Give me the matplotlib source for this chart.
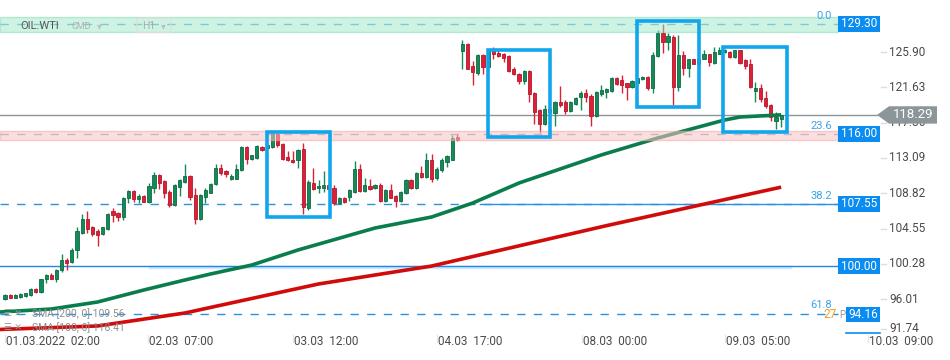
import matplotlib
matplotlib.use("Agg")
import matplotlib.pyplot as plt
import matplotlib.transforms as mtrans
from matplotlib.patches import Rectangle, Polygon, FancyBboxPatch
import numpy as np

plt.rcParams['font.family'] = ['Roboto', 'DejaVu Sans']

# OIL.WTI H1 candles
opens = [96.0, 96.5, 96.2, 96.3, 96.4, 96.5, 97.2, 96.9, 98.4, 98.9,
         98.4, 99.5, 100.7, 100.5, 101.9, 104.0, 105.7, 104.7, 104.2, 103.9,
         104.5, 106.7, 106.4, 105.9, 108.2, 109.1, 108.1, 108.5, 107.8, 109.5,
         111.0, 110.3, 109.0, 107.4, 109.6, 110.2, 110.9, 108.6, 105.7, 108.4,
         108.9, 109.9, 111.9, 111.5, 110.5, 110.6, 111.6, 114.4, 113.0, 113.1,
         114.4, 114.3, 114.4, 116.0, 114.8, 113.2, 112.9, 112.8, 114.2, 107.0,
         110.1, 109.4, 109.5, 109.8, 109.4, 107.6, 108.3, 108.4, 109.0, 111.8,
         109.1, 109.7, 109.4, 109.8, 107.9, 109.2, 108.5, 107.9, 108.8, 110.4,
         109.4, 111.3, 110.8, 112.8, 110.7, 111.6, 112.6, 112.9, 115.6, 126.0,
         126.9, 124.2, 123.4, 125.5, 124.1, 126.1, 125.8, 125.7, 125.4, 123.8,
         123.3, 122.4, 123.6, 121.0, 118.9, 117.2, 119.0, 118.5, 119.9, 119.8,
         118.8, 119.6, 120.5, 121.0, 120.6, 118.2, 120.8, 121.1, 121.2, 122.7,
         122.5, 122.1, 121.7, 122.2, 122.6, 122.9, 121.5, 125.4, 128.2, 127.1,
         127.7, 121.7, 125.5, 124.0, 125.0, 124.5, 125.1, 125.6, 124.6, 125.7,
         125.9, 125.9, 125.3, 126.1, 124.9, 124.5, 121.2, 121.6, 120.3, 119.5,
         117.5, 117.8]
highs = [96.6, 96.6, 96.6, 96.7, 96.8, 97.4, 97.4, 98.5, 99.0, 99.2,
         99.7, 101.5, 101.0, 102.2, 104.8, 106.3, 106.7, 104.9, 104.5, 104.8,
         106.4, 107.0, 106.5, 108.4, 109.2, 109.2, 108.7, 108.6, 110.1, 111.4,
         111.1, 110.4, 109.2, 110.0, 110.5, 112.4, 111.0, 109.4, 108.7, 109.4,
         110.1, 112.4, 112.4, 111.6, 111.1, 112.4, 114.5, 114.5, 113.5, 114.7,
         114.5, 114.8, 116.2, 116.2, 114.9, 113.9, 113.9, 114.2, 114.9, 110.4,
         111.9, 110.4, 111.5, 109.9, 109.8, 108.4, 108.4, 109.3, 112.7, 112.3,
         110.7, 110.6, 110.0, 110.1, 109.3, 109.9, 108.6, 109.1, 110.5, 110.5,
         111.4, 112.1, 113.7, 113.6, 112.0, 113.1, 113.5, 115.9, 116.0, 127.3,
         127.0, 124.8, 125.6, 125.6, 126.2, 126.5, 126.2, 125.8, 125.5, 124.1,
         123.4, 123.7, 123.7, 121.1, 119.0, 119.5, 119.3, 120.0, 121.8, 120.1,
         120.0, 120.4, 121.2, 121.4, 120.8, 121.2, 121.9, 121.5, 122.9, 122.9,
         123.1, 122.2, 122.5, 122.8, 123.0, 123.0, 125.9, 128.6, 129.3, 128.2,
         128.0, 128.0, 126.0, 125.1, 125.1, 125.2, 126.1, 125.7, 126.5, 126.5,
         126.3, 126.0, 126.2, 126.2, 125.0, 125.1, 122.3, 122.0, 121.2, 119.6,
         118.6, 118.3]
lows = [95.9, 96.1, 96.1, 96.2, 96.3, 96.4, 96.8, 96.8, 98.0, 98.4,
        98.1, 99.3, 99.6, 100.4, 101.0, 103.9, 104.0, 103.6, 102.5, 103.8,
        104.4, 105.3, 105.5, 105.6, 107.7, 107.8, 107.7, 107.8, 107.7, 108.8,
        109.3, 108.3, 107.2, 107.3, 108.5, 110.1, 108.0, 105.1, 105.6, 107.7,
        108.8, 109.8, 111.0, 110.8, 110.4, 110.5, 111.5, 112.4, 112.9, 113.0,
        113.9, 114.2, 114.3, 114.4, 112.8, 112.7, 112.5, 111.9, 106.3, 106.8,
        109.2, 108.9, 109.0, 109.2, 107.4, 107.5, 107.7, 107.9, 108.9, 109.0,
        109.0, 109.2, 109.3, 107.8, 107.8, 108.2, 107.2, 107.8, 108.7, 109.3,
        109.3, 110.7, 110.7, 110.2, 110.4, 111.4, 112.0, 112.8, 115.1, 123.9,
        123.8, 121.9, 123.1, 123.3, 124.0, 125.1, 125.3, 124.7, 123.5, 123.1,
        122.0, 122.0, 119.8, 117.2, 116.1, 117.1, 118.3, 117.0, 119.2, 118.4,
        118.7, 119.5, 118.9, 119.8, 117.0, 118.1, 120.6, 120.3, 121.1, 121.9,
        121.0, 120.1, 121.6, 122.1, 122.5, 121.3, 120.9, 125.3, 125.8, 126.2,
        119.5, 121.2, 123.1, 122.9, 124.4, 124.4, 125.0, 124.2, 124.5, 125.6,
        125.8, 125.2, 125.2, 124.5, 123.9, 121.6, 119.9, 119.9, 119.1, 117.5,
        116.6, 116.8]
closes = [96.5, 96.2, 96.5, 96.6, 96.7, 97.2, 96.9, 98.4, 98.9, 98.5,
          99.6, 100.7, 100.4, 101.9, 104.2, 105.7, 104.5, 103.9, 103.8, 104.7,
          106.3, 106.2, 106.0, 108.3, 109.1, 108.1, 108.5, 107.8, 109.7, 111.0,
          110.1, 108.8, 107.4, 109.8, 110.4, 110.9, 108.4, 105.7, 108.6, 109.2,
          110.0, 111.9, 111.3, 111.1, 110.9, 111.8, 114.4, 113.0, 113.4, 114.5,
          114.1, 114.7, 116.0, 114.7, 113.0, 112.8, 112.6, 114.1, 107.1, 110.2,
          109.3, 109.7, 109.8, 109.3, 107.6, 108.3, 107.8, 109.2, 111.8, 109.1,
          109.8, 109.3, 109.8, 107.9, 109.2, 108.3, 107.9, 109.0, 110.4, 109.4,
          111.3, 110.8, 112.8, 110.5, 111.8, 112.8, 113.3, 115.5, 115.3, 126.9,
          123.9, 123.5, 125.5, 124.1, 126.1, 125.7, 125.4, 125.2, 123.6, 123.2,
          122.4, 123.6, 120.8, 118.7, 117.2, 119.0, 118.6, 119.9, 119.5, 118.8,
          119.9, 120.3, 121.0, 120.4, 118.2, 121.1, 121.3, 121.4, 122.7, 122.0,
          121.9, 121.7, 122.4, 122.7, 122.9, 121.5, 125.5, 128.2, 127.1, 127.8,
          121.7, 125.5, 124.0, 125.0, 124.5, 125.0, 125.6, 124.7, 125.9, 126.2,
          126.2, 125.3, 126.1, 124.6, 124.2, 121.7, 121.5, 120.2, 119.4, 118.1,
          118.1, 118.29]

# moving averages, sampled along the drawn lines (candle index, value)
sma100_idx = [-1, 9, 18, 27, 35, 40, 48, 57, 72, 76, 83, 91, 100, 116, 127, 140, 143, 151]
sma100_val = [94.46, 94.82, 95.67, 97.12, 98.33, 99.06, 100.14, 101.96, 104.62, 105.1,
              105.95, 107.64, 110.06, 113.45, 115.5, 117.68, 118.04, 118.3]
sma200_idx = [-1, 18, 35, 61, 83, 117, 151]
sma200_val = [92.35, 92.77, 94.34, 97.85, 100.02, 104.9, 109.56]

# fibonacci levels
fib_prices = [129.30, 116.00, 107.55, 100.00, 94.16]
fib_ratios = ['0.0', '23.6', '38.2', '', '61.8']
last_price = 118.29

y_ticks = [125.90, 121.63, 117.36, 113.09, 108.82, 104.55, 100.28, 96.01, 91.74]
x_tick_idx = [0, 27.8, 56.0, 84.0, 112.3, 140.1, 167.9]
x_tick_labels = ['01.03.2022  02:00', '02.03  07:00', '03.03  12:00', '04.03  17:00',
                 '08.03  00:00', '09.03  05:00', '10.03  09:00']

sma_legend = ['SMA [200, 0] 109.56', 'SMA [100, 0] 118.41']

# highlighted areas: (first idx, last idx, top, bottom)
boxes = [(50.9, 63.2, 116.26, 105.91),
         (93.9, 106.0, 126.14, 115.66),
         (122.9, 135.0, 129.65, 119.25),
         (139.7, 152.2, 126.54, 116.19)]

W, H = 950, 360
STEP = 5.14  # px per candle
GREEN, GREEN_E = '#148a58', '#0d6a43'
RED, RED_E = '#dc2137', '#b5172b'
BLUE = '#0a8cf0'

fig = plt.figure(figsize=(W / 100, H / 100), dpi=100)
ax = fig.add_axes([0, 25 / H, 1, 335 / H])
ax.set_xlim(-5 / STEP, (W - 5) / STEP)
ax.set_ylim(91.68, 132.19)
ax.axis('off')
tr = mtrans.blended_transform_factory(ax.transAxes, ax.transData)


def fx(px):
    return px / W


END = fx(838)

# horizontal level lines
ax.plot([0, END], [129.30] * 2, transform=tr, color='#6aa6d8', lw=1, dashes=(6, 6), zorder=2)
ax.plot([0, END], [116.00] * 2, transform=tr, color='#8ea6cc', lw=1, dashes=(6, 6), zorder=2)
ax.plot([0, END], [107.55] * 2, transform=tr, color='#2a92e2', lw=1, dashes=(6, 6), zorder=2)
ax.plot([fx(480), END], [107.55] * 2, transform=tr, color='#2a92e2', lw=1, zorder=2)
ax.plot([0, END], [100.00] * 2, transform=tr, color='#1e88e5', lw=1, zorder=2)
ax.plot([fx(150), fx(790)], [99.85] * 2, transform=tr, color='#d3e8f9', lw=2.5, zorder=1.5)
ax.plot([0, END], [94.16] * 2, transform=tr, color='#2a92e2', lw=1, dashes=(6, 6), zorder=2)
ax.plot([0, fx(877)], [last_price] * 2, transform=tr, color='#8a9499', lw=1, zorder=2)

# candles
o = np.array(opens); c = np.array(closes); hi = np.array(highs); lo = np.array(lows)
idx = np.arange(len(o))
up = c >= o
col = np.where(up, GREEN, RED)
ecol = np.where(up, GREEN_E, RED_E)
ax.vlines(idx, lo, hi, colors=col, lw=1, zorder=3)
ax.bar(idx, np.maximum(np.abs(c - o), 0.15), bottom=np.minimum(o, c), width=0.62,
       color=col, edgecolor=ecol, linewidth=0.6, zorder=4)

# SMA lines
ax.plot(sma200_idx, sma200_val, color='#d10a0a', lw=2.6, zorder=5, solid_capstyle='butt')
ax.plot(sma100_idx, sma100_val, color='#0a7d4c', lw=2.6, zorder=5, solid_capstyle='butt')

# fib zones (semi transparent, above candles)
ax.add_patch(Rectangle((0, 128.33), END, 1.82, transform=tr, fc='#9fe8c8', ec='#7fd9b2',
                       lw=1, alpha=0.5, zorder=6))
ax.add_patch(Rectangle((0, 115.2), END, 1.15, transform=tr, fc='#f9c4c4', ec='#f2a8a8',
                       lw=1, alpha=0.55, zorder=6))

# highlight boxes
for x0, x1, top, bot in boxes:
    ax.add_patch(Rectangle((x0, bot), x1 - x0, top - bot, fill=False, ec='#10a6ee',
                           lw=2.6, zorder=7))

# fib ratio labels
for p, r in zip(fib_prices, fib_ratios):
    if r:
        dy = 0.55 if p < 95 else 0.35
        ax.text(fx(832), p + dy, r, transform=tr, ha='right', va='bottom',
                color='#3aa3ea', fontsize=8, zorder=8)

# right axis ticks
for v in y_ticks:
    yy = v if v > 92 else v + 0.7
    ax.plot([fx(881), fx(886)], [yy, yy], transform=tr, color='#dddddd', lw=1, clip_on=False)
    ax.text(fx(889), yy, f'{v:.2f}', transform=tr, ha='left', va='center',
            color='#4a4a4a', fontsize=8.5, clip_on=False)

# price boxes for fib levels
for p, x0 in zip(fib_prices, [838, 838, 838, 838, 846]):
    ax.add_patch(Rectangle((fx(x0), p - 0.95), fx(880) - fx(x0), 1.9, transform=tr,
                           fc=BLUE, ec='none', zorder=9, clip_on=False))
    ax.text(fx((x0 + 880) / 2), p, f'{p:.2f}', transform=tr, ha='center', va='center',
            color='white', fontsize=8.5, zorder=10)
ax.plot([fx(846), fx(880)], [91.95, 91.95], transform=tr, color=BLUE, lw=1.2, clip_on=False)
ax.text(fx(837), 94.1, '27', transform=tr, ha='right', va='center', color='#f59a23',
        fontsize=8.5, zorder=10)
ax.text(fx(839), 94.1, 'P', transform=tr, ha='left', va='center', color='#999999',
        fontsize=7, zorder=8)

# last price marker
ly = last_price
pts = [(fx(877), ly), (fx(889), ly + 1.05), (fx(937), ly + 1.05), (fx(937), ly - 1.05),
       (fx(889), ly - 1.05)]
ax.add_patch(Polygon(pts, closed=True, transform=tr, fc='#8c9699', ec='none', zorder=11,
                     clip_on=False))
ax.text(fx(913), ly, f'{last_price:.2f}', transform=tr, ha='center', va='center',
        color='white', fontsize=9.5, zorder=12)

# x axis labels
xtr = mtrans.blended_transform_factory(ax.transData, ax.transAxes)
for xi, lab in zip(x_tick_idx, x_tick_labels):
    ax.plot([xi, xi], [0, -0.02], transform=xtr, color='#e6e6e6', lw=1, clip_on=False)
    ax.text(xi + 0.2, -0.018, lab, transform=xtr, ha='left', va='center',
            color='#4a4a4a', fontsize=8.5, clip_on=False)

# top-left instrument header
ax.text(fx(20), 129.05, 'OIL.WTI', transform=tr, ha='left', va='center', color='#555555',
        fontsize=8, zorder=12)
ax.text(fx(72), 128.95, 'CMD', transform=tr, ha='left', va='center', color='#b0b0b0',
        fontsize=6.5, zorder=12)
ax.text(fx(97), 129.05, '\u25be', transform=tr, ha='left', va='center', color='#c0c0c0',
        fontsize=7, zorder=12)
ax.add_patch(FancyBboxPatch((fx(137), 128.25), fx(34), 1.75, transform=tr,
                            boxstyle='round,pad=0,rounding_size=0.004', fc='none',
                            ec='#dddddd', lw=0.8, zorder=12))
ax.text(fx(142), 129.05, 'H1', transform=tr, ha='left', va='center', color='#aaaaaa',
        fontsize=7.5, zorder=12)
ax.text(fx(161), 129.05, '\u25be', transform=tr, ha='left', va='center', color='#c0c0c0',
        fontsize=7, zorder=12)

# SMA legend
for p, lab in zip([94.25, 92.6], sma_legend):
    ax.text(fx(4), p, '\u2630 \u2715', transform=tr, ha='left', va='center', color='#9a9a9a',
            fontsize=6.5, zorder=12)
    ax.text(fx(32), p, lab, transform=tr, ha='left', va='center', color='#8c8c8c',
            fontsize=7.5, zorder=12)

fig.savefig('out.png', dpi=100)
